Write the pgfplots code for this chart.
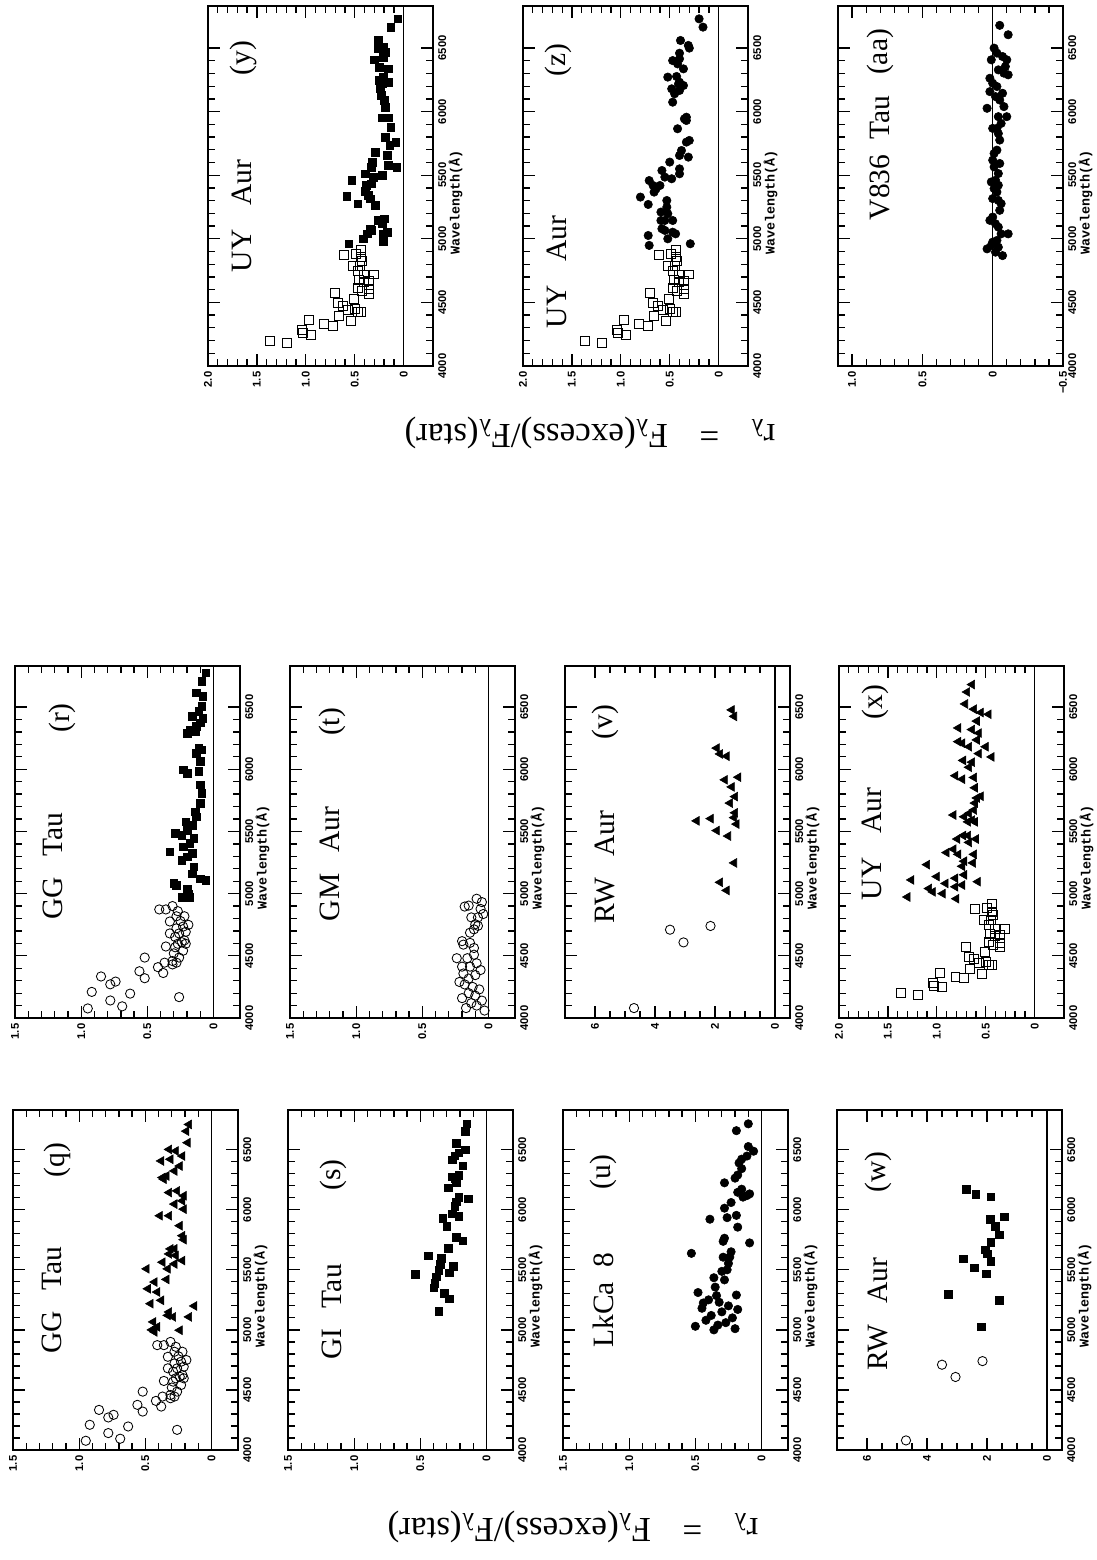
\documentclass[border=0pt]{standalone}
\usepackage{fontspec}
\setmainfont{Liberation Serif}
\setsansfont{Liberation Sans}
\setmonofont{Liberation Mono}
\usepackage{pgfplots}
\usepackage{pgfplotstable}
\pgfplotsset{compat=1.18}

% 1 px of the reference = 0.25 mm
\def\px{0.25mm}

% ---- data: r_lambda, wavelength ----
\pgfplotstableread{
r lam
0.95 4077
0.92 4210
0.78 4141
0.69 4094
0.63 4196
0.85 4334
0.78 4271
0.74 4293
0.26 4168
0.56 4376
0.52 4320
0.52 4486
0.42 4409
0.38 4362
0.37 4445
0.36 4575
0.31 4458
0.31 4431
0.28 4445
0.26 4486
0.29 4569
0.27 4597
0.23 4541
0.29 4652
0.26 4680
0.22 4624
0.28 4721
0.23 4735
0.21 4693
0.19 4749
0.33 4776
0.28 4818
0.22 4818
0.36 4873
0.31 4900
0.27 4859
0.41 4873
0.33 4680
0.24 4610
0.21 4597
0.30 4520
0.25 4780
}\ggcirc

\pgfplotstableread{
r lam
0.44 5066
0.43 4983
0.41 5025
0.45 5000
0.24 4997
0.29 5108
0.32 5149
0.33 5121
0.17 5108
0.13 5199
0.46 5218
0.38 5246
0.48 5342
0.43 5398
0.41 5315
0.49 5508
0.34 5420
0.33 5508
0.28 5549
0.37 5563
0.22 5577
0.27 5619
0.28 5674
0.32 5632
0.31 5674
0.21 5751
0.22 5784
0.24 5867
0.39 5950
0.32 5950
0.21 6005
0.28 6047
0.22 6074
0.32 6143
0.26 6157
0.21 6116
0.36 6254
0.34 6281
0.37 6268
0.28 6323
0.24 6364
0.31 6420
0.38 6406
0.27 6489
0.22 6447
0.32 6502
0.18 6558
0.19 6654
0.17 6710
}\ggtri

\pgfplotstableread{
r lam
0.24 4973
0.20 5040
0.19 5000
0.18 4973
0.30 5081
0.28 5067
0.10 5121
0.06 5108
0.16 5161
0.15 5215
0.24 5269
0.20 5296
0.16 5323
0.33 5336
0.23 5377
0.18 5404
0.15 5444
0.29 5484
0.24 5471
0.20 5511
0.16 5551
0.21 5578
0.13 5619
0.14 5659
0.10 5726
0.09 5807
0.10 5874
0.23 5995
0.20 5968
0.11 5982
0.10 6063
0.13 6130
0.11 6170
0.09 6157
0.20 6291
0.18 6318
0.14 6305
0.13 6345
0.10 6372
0.16 6426
0.11 6466
0.09 6506
0.08 6412
0.08 6587
0.13 6614
0.09 6708
0.06 6775
}\ggsq

\pgfplotstableread{
r lam
0.54 5463
0.44 5616
0.40 5351
0.39 5390
0.38 5442
0.36 5494
0.35 5546
0.34 5598
0.36 5156
0.32 5307
0.28 5260
0.28 5476
0.25 5528
0.29 5681
0.30 5863
0.33 5931
0.26 5967
0.23 5772
0.18 5741
0.21 5944
0.24 6027
0.23 6066
0.21 6105
0.14 6092
0.29 6183
0.26 6274
0.24 6261
0.21 6287
0.23 6230
0.18 6365
0.26 6417
0.24 6448
0.21 6474
0.16 6500
0.23 6552
0.16 6651
0.15 6716
}\gisq

\pgfplotstableread{
r lam
0.18 4896
0.15 4904
0.09 4959
0.05 4932
0.06 4877
0.13 4809
0.08 4809
0.04 4836
0.10 4754
0.11 4713
0.08 4741
0.14 4686
0.20 4618
0.19 4590
0.14 4604
0.11 4563
0.24 4481
0.16 4481
0.11 4509
0.20 4413
0.14 4413
0.09 4440
0.19 4358
0.10 4345
0.15 4317
0.06 4386
0.18 4270
0.12 4250
0.07 4230
0.15 4200
0.10 4180
0.20 4160
0.05 4140
0.13 4120
0.09 4100
0.17 4080
0.03 4060
0.22 4290
}\gmcirc

\pgfplotstableread{
r lam
0.53 5637
0.48 5311
0.44 5224
0.39 5921
0.34 5285
0.35 5356
0.36 5434
0.30 5487
0.29 5605
0.28 5416
0.26 5500
0.25 5553
0.24 5606
0.23 5650
0.29 5737
0.28 5763
0.28 6013
0.26 5934
0.28 6224
0.23 6060
0.19 5953
0.18 5855
0.19 5290
0.09 5724
0.15 6171
0.18 6145
0.20 6263
0.18 6289
0.15 6342
0.14 6105
0.11 6118
0.09 6132
0.17 6389
0.15 6421
0.11 6447
0.10 6526
0.06 6487
0.19 6658
0.10 6715
0.45 5180
0.30 5150
0.38 5120
0.22 5100
0.42 5080
0.27 5060
0.33 5040
0.50 5030
0.20 5010
0.36 5000
0.25 5200
0.40 5250
0.18 5170
0.32 5230
}\lkcirc

\pgfplotstableread{
r lam
4.70 4080
3.50 4710
3.05 4608
2.15 4740
}\rwcirc

\pgfplotstableread{
r lam
2.61 5585
2.14 5603
1.94 5507
1.56 5463
1.83 5091
1.61 5026
1.36 5247
1.94 6170
1.83 6123
1.61 6105
1.67 5915
1.22 5936
1.44 5858
1.33 5780
1.50 5728
1.33 5650
1.28 5559
1.36 5611
1.44 6477
1.36 6425
}\rwtri

\pgfplotstableread{
r lam
3.29 5298
2.20 5026
2.79 5591
2.42 5518
2.03 5466
2.70 6171
2.37 6127
1.87 6109
1.87 5570
2.06 5666
2.00 5635
1.87 5730
1.59 5790
1.73 5860
1.89 5919
1.42 5940
1.59 5246
}\rwsq

\pgfplotstableread{
r lam
1.37 4201
1.19 4183
1.04 4285
1.03 4259
0.95 4248
0.97 4366
0.81 4327
0.72 4319
0.70 4573
0.66 4397
0.67 4494
0.62 4476
0.54 4353
0.51 4528
0.50 4450
0.57 4442
0.47 4424
0.44 4429
0.47 4615
0.46 4673
0.41 4659
0.36 4667
0.36 4607
0.36 4568
0.43 4589
0.41 4720
0.30 4720
0.47 4751
0.52 4790
0.45 4790
0.43 4830
0.44 4856
0.61 4877
0.49 4882
0.44 4914
}\uysq

\pgfplotstableread{
r lam
1.30 4973
1.26 5110
1.10 5233
1.08 5041
1.04 5014
1.00 5137
0.94 5000
0.91 5082
0.80 4959
0.81 5124
0.81 5055
0.74 5069
0.72 5151
0.58 5096
0.90 5330
0.83 5357
0.78 5316
0.74 5220
0.72 5261
0.63 5247
0.62 5316
0.79 5439
0.73 5467
0.67 5412
0.68 5467
0.60 5439
0.83 5632
0.72 5618
0.68 5577
0.64 5591
0.62 5673
0.61 5577
0.67 5645
0.61 5728
0.59 5769
0.55 5783
0.61 5851
0.62 5934
0.81 5948
0.74 5920
0.67 6016
0.73 6071
0.64 6057
0.57 6126
0.50 6181
0.78 6222
0.74 6209
0.67 6181
0.59 6236
0.64 6319
0.57 6291
0.78 6332
0.59 6387
0.55 6456
0.47 6442
0.62 6483
0.71 6525
0.69 6621
0.64 6681
0.44 6099
}\uytri

\pgfplotstableread{
r lam
0.56 4961
0.41 5000
0.37 5039
0.33 5066
0.21 4982
0.21 5039
0.17 5052
0.22 5123
0.20 5157
0.26 5144
0.34 5079
0.29 5262
0.47 5275
0.53 5458
0.58 5333
0.39 5375
0.36 5340
0.34 5314
0.38 5419
0.33 5432
0.31 5485
0.39 5511
0.33 5563
0.32 5603
0.22 5498
0.29 5681
0.16 5576
0.17 5655
0.14 5734
0.07 5563
0.08 5760
0.19 5799
0.22 5951
0.15 5951
0.13 5878
0.19 6035
0.20 6087
0.23 6127
0.22 6218
0.16 6231
0.25 6245
0.24 6179
0.21 6271
0.16 6336
0.25 6349
0.30 6407
0.21 6428
0.26 6493
0.19 6467
0.21 6507
0.26 6559
0.13 6664
0.06 6729
}\uyfsq

\pgfplotstableread{
r lam
0.80 5328
0.72 5270
0.71 5458
0.71 4948
0.72 5026
0.67 5419
0.66 5367
0.64 5393
0.60 5419
0.59 5210
0.58 5079
0.59 5144
0.55 5144
0.55 5066
0.53 5249
0.53 5301
0.52 5000
0.52 5197
0.58 5537
0.55 5485
0.50 5603
0.48 5472
0.47 5052
0.47 5144
0.44 5039
0.40 5550
0.40 5511
0.40 5655
0.38 5694
0.31 5642
0.33 5760
0.30 5773
0.42 5865
0.33 5930
0.35 5943
0.33 5956
0.29 4961
0.47 6074
0.45 6140
0.48 6179
0.41 6218
0.52 6271
0.43 6276
0.40 6231
0.40 6166
0.36 6205
0.36 6336
0.47 6401
0.40 6415
0.42 6375
0.40 6459
0.39 6559
0.31 6520
0.30 6499
0.20 6729
0.16 6664
}\uyfcirc

\pgfplotstableread{
r lam
-0.05 6678
-0.11 6604
-0.01 6499
-0.03 6460
-0.07 6433
-0.10 6407
-0.09 6354
-0.04 6328
-0.08 6302
0.01 6407
0.02 6262
0.00 6223
-0.03 6197
-0.11 6289
-0.07 6144
-0.02 6118
0.02 6157
-0.05 6091
-0.08 6039
-0.10 5960
-0.04 5960
0.04 6026
0.00 5868
-0.03 5868
-0.06 5907
-0.04 5828
-0.05 5776
-0.03 5697
-0.01 5671
0.00 5618
-0.05 5592
-0.01 5565
-0.04 5513
-0.02 5460
0.01 5447
-0.04 5421
-0.01 5395
-0.03 5368
0.00 5316
-0.04 5302
-0.06 5276
-0.05 5224
0.00 5171
0.02 5145
-0.02 5118
-0.04 5092
-0.06 5039
-0.03 4987
0.00 4974
0.01 4947
-0.04 4934
-0.07 4868
-0.02 4895
0.04 4921
-0.11 5039
}\vcirc

\pgfplotstableread{
r lam
0 4000
0 6830
}\zeroline

\pgfplotsset{
  panel/.style={
    scale only axis, width=56.25mm,
    x dir=reverse, ymin=4000, ymax=6830,
    ytick={4000,4500,5000,5500,6000,6500},
    yticklabels={4000,4500,5000,5500,6000,6500},
    minor y tick num=4,
    xtick pos=both, ytick pos=both,
    yticklabel pos=right, xticklabel pos=left,
    tick align=inside,
    major tick length=3mm, minor tick length=1.7mm,
    tick style={black, line width=0.9pt},
    axis line style={line width=1.3pt},
    tick label style={font=\sffamily\bfseries\fontsize{8}{8.5}\selectfont},
    yticklabel shift=0.9mm,
    xticklabel shift=1mm,
    yticklabel style={rotate=90, anchor=north, inner sep=1pt},
    xticklabel style={rotate=90, anchor=east, inner sep=1pt},
    ylabel={Wavelength(Å)},
    ylabel style={at={(axis description cs:1.068,0.455)}, anchor=north, inner sep=0pt,
      font=\ttfamily\bfseries\fontsize{9.5}{9.5}\selectfont},
  },
  lowr/.style={xmin=-0.2, xmax=1.5, xtick={0,0.5,1,1.5},
    xticklabels={0,0.5,1.0,1.5}, minor x tick num=4},
  midr/.style={xmin=-0.3, xmax=2.0, xtick={0,0.5,1,1.5,2},
    xticklabels={0,0.5,1.0,1.5,2.0}, minor x tick num=4},
  bigr/.style={xmin=-0.5, xmax=7, xtick={0,2,4,6},
    xticklabels={0,2,4,6}, minor x tick num=3},
  aar/.style={xmin=-0.5, xmax=1.1, xtick={-0.5,0,0.5,1},
    xticklabels={−0.5,0,0.5,1.0}, minor x tick num=4},
  zero/.style={black, line width=0.9pt},
  ocirc/.style={only marks, mark=o, mark size=3.3pt, black, mark options={line width=0.6pt}},
  fcirc/.style={only marks, mark=*, mark size=3.0pt, black},
  ftri/.style={only marks, mark=triangle*, mark size=3.6pt, black, mark options={rotate=90}},
  fsq/.style={only marks, mark=square*, mark size=2.7pt, black},
  osq/.style={only marks, mark=square, mark size=3.2pt, black, mark options={line width=0.6pt}},
}

\tikzset{
  star/.style={rotate=90, font=\fontsize{21}{21}\selectfont, inner sep=0pt},
  ylab/.style={rotate=180, font=\fontsize{25}{25}\selectfont, inner sep=0pt},
}

\begin{document}
\begin{tikzpicture}
\useasboundingbox (0,0) rectangle (1096*\px,-1560*\px);

% ---------- right group ----------
\begin{axis}[panel, midr, height=90mm, at={(208*\px,-6*\px)}, anchor=north west]
\addplot[zero] table[x=r, y=lam] {\zeroline};
\addplot[osq] table[x=r, y=lam] {\uysq};
\addplot[fsq] table[x=r, y=lam] {\uyfsq};
\end{axis}
\begin{axis}[panel, midr, height=90mm, at={(523*\px,-6*\px)}, anchor=north west]
\addplot[zero] table[x=r, y=lam] {\zeroline};
\addplot[osq] table[x=r, y=lam] {\uysq};
\addplot[fcirc] table[x=r, y=lam] {\uyfcirc};
\end{axis}
\begin{axis}[panel, aar, height=90mm, at={(838*\px,-6*\px)}, anchor=north west]
\addplot[zero] table[x=r, y=lam] {\zeroline};
\addplot[fcirc] table[x=r, y=lam] {\vcirc};
\end{axis}

% ---------- left group, upper row ----------
\begin{axis}[panel, lowr, height=88mm, at={(15*\px,-666*\px)}, anchor=north west]
\addplot[zero] table[x=r, y=lam] {\zeroline};
\addplot[ocirc] table[x=r, y=lam] {\ggcirc};
\addplot[fsq] table[x=r, y=lam] {\ggsq};
\end{axis}
\begin{axis}[panel, lowr, height=88mm, at={(290*\px,-666*\px)}, anchor=north west]
\addplot[zero] table[x=r, y=lam] {\zeroline};
\addplot[ocirc] table[x=r, y=lam] {\gmcirc};
\end{axis}
\begin{axis}[panel, bigr, height=88mm, at={(565*\px,-666*\px)}, anchor=north west]
\addplot[zero] table[x=r, y=lam] {\zeroline};
\addplot[ocirc] table[x=r, y=lam] {\rwcirc};
\addplot[ftri] table[x=r, y=lam] {\rwtri};
\end{axis}
\begin{axis}[panel, midr, height=88mm, at={(839*\px,-666*\px)}, anchor=north west]
\addplot[zero] table[x=r, y=lam] {\zeroline};
\addplot[osq] table[x=r, y=lam] {\uysq};
\addplot[ftri] table[x=r, y=lam] {\uytri};
\end{axis}

% ---------- left group, lower row ----------
\begin{axis}[panel, lowr, height=85mm, at={(13*\px,-1110*\px)}, anchor=north west]
\addplot[zero] table[x=r, y=lam] {\zeroline};
\addplot[ocirc] table[x=r, y=lam] {\ggcirc};
\addplot[ftri] table[x=r, y=lam] {\ggtri};
\end{axis}
\begin{axis}[panel, lowr, height=85mm, at={(288*\px,-1110*\px)}, anchor=north west]
\addplot[zero] table[x=r, y=lam] {\zeroline};
\addplot[fsq] table[x=r, y=lam] {\gisq};
\end{axis}
\begin{axis}[panel, lowr, height=85mm, at={(563*\px,-1110*\px)}, anchor=north west]
\addplot[zero] table[x=r, y=lam] {\zeroline};
\addplot[fcirc] table[x=r, y=lam] {\lkcirc};
\end{axis}
\begin{axis}[panel, bigr, height=85mm, at={(837*\px,-1110*\px)}, anchor=north west]
\addplot[zero] table[x=r, y=lam] {\zeroline};
\addplot[ocirc] table[x=r, y=lam] {\rwcirc};
\addplot[fsq] table[x=r, y=lam] {\rwsq};
\end{axis}

% ---------- panel names ----------
\node[star] at (242*\px,-216*\px) {UY\hspace{0.8em}Aur};
\node[star] at (243*\px,-58*\px) {(y)};
\node[star] at (557*\px,-272*\px) {UY\hspace{0.8em}Aur};
\node[star] at (558*\px,-60*\px) {(z)};
\node[star] at (880*\px,-158*\px) {V836\hspace{0.5em}Tau};
\node[star] at (880*\px,-52*\px) {(aa)};

\node[star] at (53*\px,-866*\px) {GG\hspace{0.7em}Tau};
\node[star] at (62*\px,-718*\px) {(r)};
\node[star] at (330*\px,-864*\px) {GM\hspace{0.7em}Aur};
\node[star] at (332*\px,-722*\px) {(t)};
\node[star] at (605*\px,-867*\px) {RW\hspace{0.7em}Aur};
\node[star] at (605*\px,-722*\px) {(v)};
\node[star] at (872*\px,-844*\px) {UY\hspace{0.8em}Aur};
\node[star] at (875*\px,-702*\px) {(x)};

\node[star] at (52*\px,-1300*\px) {GG\hspace{0.7em}Tau};
\node[star] at (57*\px,-1160*\px) {(q)};
\node[star] at (332*\px,-1312*\px) {GI\hspace{0.7em}Tau};
\node[star] at (333*\px,-1175*\px) {(s)};
\node[star] at (603*\px,-1300*\px) {LkCa\hspace{0.5em}8};
\node[star] at (603*\px,-1172*\px) {(u)};
\node[star] at (878*\px,-1314*\px) {RW\hspace{0.7em}Aur};
\node[star] at (878*\px,-1172*\px) {(w)};

% ---------- shared y labels (upside down) ----------
\node[ylab] at (573*\px,-1527*\px) {r\textsubscript{λ}\hspace{0.9em}=\hspace{0.9em}F\textsubscript{λ}(excess)/F\textsubscript{λ}(star)};
\node[ylab] at (590*\px,-433*\px) {r\textsubscript{λ}\hspace{0.9em}=\hspace{0.9em}F\textsubscript{λ}(excess)/F\textsubscript{λ}(star)};
\end{tikzpicture}
\end{document}
